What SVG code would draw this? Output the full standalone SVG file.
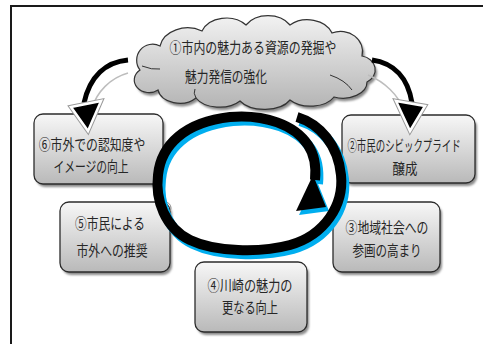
<svg xmlns="http://www.w3.org/2000/svg" width="483" height="344" viewBox="0 0 483 344">
<defs>
<linearGradient id="gBox" x1="0" y1="0" x2="0" y2="1">
<stop offset="0" stop-color="#f7f7f7"/>
<stop offset="1" stop-color="#b9b9b9"/>
</linearGradient>
<linearGradient id="gCloud" x1="0" y1="0" x2="0" y2="1">
<stop offset="0" stop-color="#f2f2f2"/>
<stop offset="1" stop-color="#b3b3b3"/>
</linearGradient>
<filter id="blur" x="-10%" y="-10%" width="130%" height="130%"><feGaussianBlur stdDeviation="1"/></filter>
</defs>
<style>
.box{fill:url(#gBox);stroke:#2b2b2b;stroke-width:1.3}
.shadow{fill:#8a8a8a;filter:url(#blur)}
.t{font-family:"Noto Sans CJK JP","Liberation Sans",sans-serif;font-size:15px;fill:#262626;text-anchor:middle}
.ring{fill:none;stroke:#000;stroke-width:10;stroke-linecap:butt}
.ringb{fill:none;stroke:#00aeef;stroke-width:10;stroke-linecap:butt}
.arm{fill:none;stroke:#000;stroke-width:5;stroke-linecap:butt}
.thin{fill:none;stroke:#bdbdbd;stroke-width:1.5}
.head{fill:#000;stroke:#fff;stroke-width:2.5;stroke-linejoin:miter}
.heado{fill:none;stroke:#999;stroke-width:4.5;stroke-linejoin:miter}
</style>
<rect width="483" height="344" fill="#fff"/>
<!-- frame -->
<path d="M11,344 V6 H483" fill="none" stroke="#1a1a1a" stroke-width="2"/>

<!-- cloud node -->
<g id="node1">
<path transform="translate(2,3)" class="shadow" d="M140,70 A16,16 0 0 1 160,46 A28,22 0 0 1 202,31 A26,20 0 0 1 246,25 A26,20 0 0 1 290,25 A26,20 0 0 1 332,33 A22,20 0 0 1 362,56 A16,14 0 0 1 367,82 A24,16 0 0 1 334,97 A26,16 0 0 1 290,100 A28,16 0 0 1 240,101 A26,16 0 0 1 196,98 A22,16 0 0 1 158,90 A14,12 0 0 1 140,70 Z"/>
<path fill="url(#gCloud)" stroke="#333" stroke-width="1.2" d="M140,70 A16,16 0 0 1 160,46 A28,22 0 0 1 202,31 A26,20 0 0 1 246,25 A26,20 0 0 1 290,25 A26,20 0 0 1 332,33 A22,20 0 0 1 362,56 A16,14 0 0 1 367,82 A24,16 0 0 1 334,97 A26,16 0 0 1 290,100 A28,16 0 0 1 240,101 A26,16 0 0 1 196,98 A22,16 0 0 1 158,90 A14,12 0 0 1 140,70 Z"/>
<path d="M142,66 Q152,70 160,69 M330,75 Q345,80 352,90 M196,98 Q193,93 195,89" fill="none" stroke="#333" stroke-width="1"/>
<text class="t" transform="translate(253,53) scale(0.795,1)">①市内の魅力ある資源の発掘や</text>
<text class="t" transform="translate(226,82) scale(0.78,1)">魅力発信の強化</text>
</g>

<!-- box nodes -->
<g id="node6">
<rect class="shadow" x="36" y="117" width="129" height="70" rx="9"/>
<rect class="box" x="34" y="114" width="129" height="70" rx="9"/>
<text class="t" transform="translate(92,150) scale(0.79,1)">⑥市外での認知度や</text>
<text class="t" transform="translate(91,172) scale(0.72,1)">イメージの向上</text>
</g>
<g id="node5">
<rect class="shadow" x="62" y="205" width="110" height="70" rx="9"/>
<rect class="box" x="60" y="202" width="110" height="70" rx="9"/>
<text class="t" transform="translate(110,229) scale(0.78,1)">⑤市民による</text>
<text class="t" transform="translate(112,256) scale(0.79,1)">市外への推奨</text>
</g>
<g id="node4">
<rect class="shadow" x="197" y="265" width="112" height="70" rx="9"/>
<rect class="box" x="195" y="262" width="112" height="70" rx="9"/>
<text class="t" transform="translate(250,291) scale(0.81,1)">④川崎の魅力の</text>
<text class="t" transform="translate(250,313) scale(0.75,1)">更なる向上</text>
</g>
<g id="node2">
<rect class="shadow" x="344" y="118" width="133" height="68" rx="9"/>
<rect class="box" x="342" y="115" width="133" height="68" rx="9"/>
<text class="t" transform="translate(404,151) scale(0.63,1)">②市民のシビックプライド</text>
<text class="t" transform="translate(405,174) scale(0.83,1)">醸成</text>
</g>
<g id="node3">
<rect class="shadow" x="335" y="205" width="107" height="70" rx="9"/>
<rect class="box" x="333" y="202" width="107" height="70" rx="9"/>
<text class="t" transform="translate(387,233) scale(0.79,1)">③地域社会への</text>
<text class="t" transform="translate(387,256) scale(0.77,1)">参画の高まり</text>
</g>

<!-- connectors -->
<g id="connectors">
<!-- left curved arrow -->
<path class="thin" d="M128,73 C110,78 97,92 92,108"/>
<path class="arm" d="M128,60 C106,62 90,76 84,103"/>
<polygon class="heado" points="71,107 101,101 88,131"/>
<polygon class="head" points="71,107 101,101 88,131"/>
<!-- right curved arrow -->
<path class="thin" d="M368,75 C385,82 398,95 404,110"/>
<path class="arm" d="M372,60 C394,63 408,78 412,103"/>
<polygon class="heado" points="396,101 425,106 410,131"/>
<polygon class="head" points="396,101 425,106 410,131"/>
<!-- central loop -->
<circle cx="165" cy="208" r="6" fill="none" stroke="#888" stroke-width="1"/>
<circle cx="338" cy="208" r="6" fill="none" stroke="#888" stroke-width="1"/>
<g transform="translate(3,4)">
<path class="ringb" d="M297,117 C320,124 338,145 341,175 C344,205 325,235 290,245 C260,253 215,252 190,240 C165,228 155,200 158,175 C161,145 185,122 230,117 C265,114 295,125 308,145 C316,157 316,170 315,180"/>
<polygon fill="#00aeef" points="313,175 326,207 296,211"/>
</g>
<path class="ring" d="M297,117 C320,124 338,145 341,175 C344,205 325,235 290,245 C260,253 215,252 190,240 C165,228 155,200 158,175 C161,145 185,122 230,117 C265,114 295,125 308,145 C316,157 316,170 315,180"/>
<polygon fill="#000" points="313,175 326,207 296,211"/>
</g>
</svg>
